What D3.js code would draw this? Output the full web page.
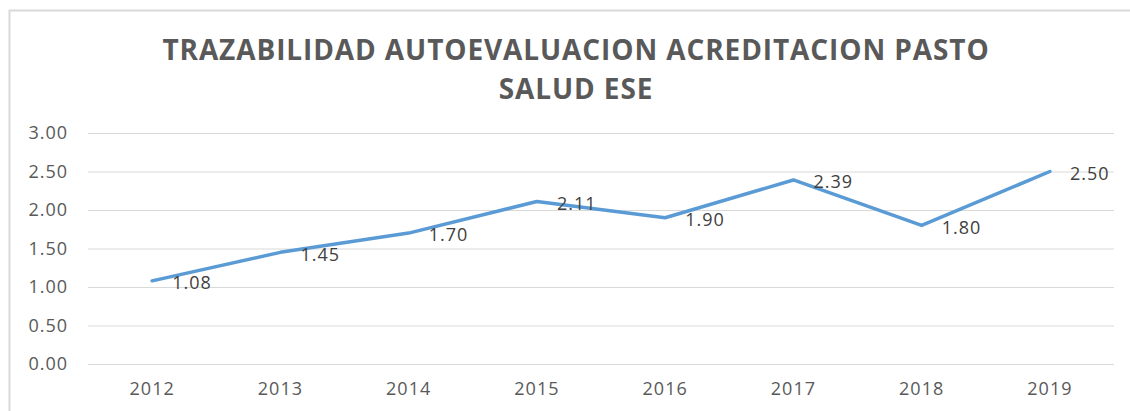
<!DOCTYPE html>
<html>
<head>
<meta charset="utf-8">
<script src="https://cdn.jsdelivr.net/npm/d3@7"></script>
<style>
    body { margin: 0; background: #fff; }
    svg { display: block; font-family: "Open Sans", "Liberation Sans", sans-serif; }
</style>
</head>
<body>
<div id="chart"></div>
<script>
const years = ["2012", "2013", "2014", "2015", "2016", "2017", "2018", "2019"];
const scores = [1.08, 1.45, 1.70, 2.11, 1.90, 2.39, 1.80, 2.50];
const yTicks = [0, 0.5, 1, 1.5, 2, 2.5, 3];
const titleLines = ["TRAZABILIDAD AUTOEVALUACION ACREDITACION PASTO", "SALUD ESE"];

const width = 1130, height = 411;
const margin = { top: 133, right: 16, bottom: 47, left: 88 };
const font = '"Open Sans", "Liberation Sans", sans-serif';

const svg = d3.select("#chart")
    .append("svg")
    .attr("width", width)
    .attr("height", height);

// chart frame (only top and left edges are visible in the crop)
svg.append("path")
    .attr("d", `M9.5,${height} V10.5 H${width}`)
    .attr("fill", "none")
    .attr("stroke", "#d9d9d9")
    .attr("stroke-width", 2);

svg.append("text")
    .attr("x", 576)
    .attr("y", 60)
    .attr("text-anchor", "middle")
    .attr("fill", "#595959")
    .style("font-size", "28px")
    .style("font-weight", "bold")
    .style("letter-spacing", "0.9px")
    .selectAll("tspan")
    .data(titleLines)
    .enter()
    .append("tspan")
    .attr("x", 576)
    .attr("dy", (d, i) => i ? 39 : 0)
    .text(d => d);

const chartWidth = width - margin.left - margin.right;
const chartHeight = height - margin.top - margin.bottom;

const g = svg.append("g")
    .attr("transform", `translate(${margin.left},${margin.top})`);

const x = d3.scaleBand()
    .domain(years)
    .range([0, chartWidth]);

const y = d3.scaleLinear()
    .domain([0, 3])
    .range([chartHeight, 0]);

// gridlines + y labels
const yAxis = g.append("g")
    .call(d3.axisLeft(y).tickValues(yTicks).tickFormat(d3.format(".2f")).tickSize(-chartWidth).tickPadding(20))
    .attr("font-family", font)
    .attr("font-size", 18);
yAxis.select(".domain").remove();
yAxis.selectAll(".tick line").attr("stroke", "#d9d9d9").attr("stroke-width", 1);
yAxis.selectAll(".tick text")
    .attr("fill", "#595959")
    .style("letter-spacing", "1px");

const xAxis = g.append("g")
    .attr("transform", `translate(0,${chartHeight})`)
    .call(d3.axisBottom(x).tickSize(0).tickPadding(18))
    .attr("font-family", font)
    .attr("font-size", 18);
xAxis.select(".domain").remove();
xAxis.selectAll(".tick text")
    .attr("fill", "#595959")
    .style("letter-spacing", "1px");

const line = d3.line()
    .x((d, i) => x(years[i]) + x.bandwidth() / 2)
    .y(d => y(d));

g.append("path")
    .datum(scores)
    .attr("d", line)
    .attr("fill", "none")
    .attr("stroke", "#5b9bd5")
    .attr("stroke-width", 3.5)
    .attr("stroke-linejoin", "round")
    .attr("stroke-linecap", "round");

g.selectAll(".value-label")
    .data(scores)
    .enter()
    .append("text")
    .attr("class", "value-label")
    .attr("x", (d, i) => x(years[i]) + x.bandwidth() / 2 + 20)
    .attr("y", d => y(d) + 2)
    .attr("dy", "0.35em")
    .attr("fill", "#404040")
    .style("font-size", "18px")
    .style("letter-spacing", "1px")
    .text(d => d.toFixed(2));
</script>
</body>
</html>
